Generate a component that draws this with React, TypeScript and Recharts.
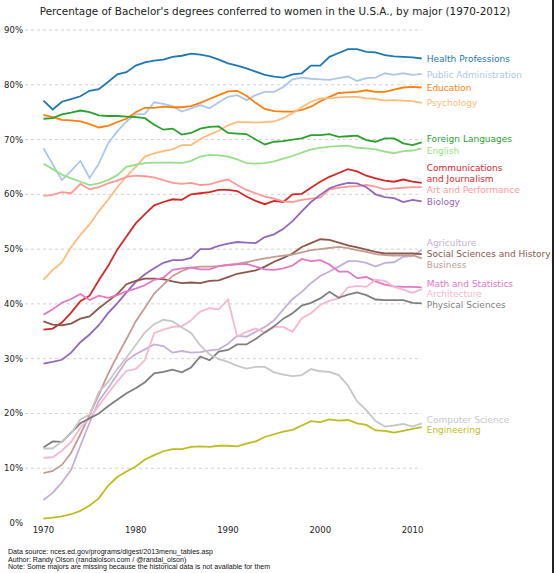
import { LineChart, Line, XAxis, YAxis, ReferenceLine, ReferenceDot } from "recharts";

const years = [
  1970, 1971, 1972, 1973, 1974, 1975, 1976, 1977, 1978, 1979,
  1980, 1981, 1982, 1983, 1984, 1985, 1986, 1987, 1988, 1989,
  1990, 1991, 1992, 1993, 1994, 1995, 1996, 1997, 1998, 1999,
  2000, 2001, 2002, 2003, 2004, 2005, 2006, 2007, 2008, 2009,
  2010, 2011,
];

const healthProfessions = [
  77.1, 75.5, 76.9, 77.4, 77.9, 78.9, 79.2, 80.5, 81.9, 82.3,
  83.5, 84.1, 84.4, 84.6, 85.1, 85.3, 85.7, 85.5, 85.2, 84.6,
  83.9, 83.5, 83.0, 82.4, 81.8, 81.5, 81.3, 81.9, 82.1, 83.5,
  83.5, 85.1, 85.8, 86.5, 86.5, 86.0, 85.9, 85.4, 85.2, 85.1,
  85.0, 84.8,
];
const publicAdministration = [
  68.4, 65.5, 62.6, 64.3, 66.1, 63.0, 65.6, 69.3, 71.5, 73.3,
  74.6, 74.7, 76.8, 76.5, 76.1, 75.1, 75.7, 76.3, 75.7, 76.8,
  77.8, 78.1, 77.2, 78.1, 78.7, 78.7, 79.6, 81.0, 81.3, 81.1,
  81.0, 80.9, 81.2, 81.5, 80.7, 81.2, 81.3, 82.1, 81.8, 82.1,
  81.8, 82.0,
];
const education = [
  74.5, 74.1, 73.6, 73.5, 73.3, 72.8, 72.2, 72.5, 73.2, 73.8,
  75.0, 75.8, 75.8, 76.0, 75.9, 75.9, 76.1, 76.7, 77.4, 78.1,
  78.8, 78.9, 78.0, 76.7, 75.6, 75.2, 75.1, 75.1, 75.4, 76.0,
  77.0, 77.8, 78.5, 78.6, 78.7, 79.0, 78.7, 78.7, 79.1, 79.5,
  79.6, 79.5,
];
const psychology = [
  44.4, 46.2, 47.6, 50.4, 52.6, 54.5, 56.9, 59.0, 61.3, 63.3,
  65.0, 66.9, 67.5, 67.9, 68.2, 69.0, 69.0, 70.1, 70.9, 71.6,
  72.6, 73.2, 73.2, 73.1, 73.2, 73.3, 73.9, 74.8, 75.9, 76.9,
  77.5, 77.5, 77.7, 77.8, 77.8, 77.5, 77.4, 77.1, 77.2, 77.1,
  77.0, 76.7,
];
const foreignLanguages = [
  73.8, 73.9, 74.6, 74.9, 75.3, 75.0, 74.4, 74.3, 74.3, 74.2,
  74.1, 73.9, 72.7, 71.8, 72.0, 70.9, 71.2, 72.0, 72.3, 72.4,
  71.2, 71.1, 71.0, 70.0, 69.1, 69.6, 69.7, 70.0, 70.2, 70.8,
  70.8, 71.0, 70.5, 70.6, 70.7, 69.9, 69.6, 70.2, 70.2, 69.3,
  69.0, 69.5,
];
const english = [
  65.6, 64.6, 63.6, 62.9, 62.3, 61.7, 62.0, 62.6, 63.5, 65.0,
  65.4, 65.7, 65.8, 65.8, 65.8, 65.7, 66.1, 66.9, 67.2, 67.1,
  66.9, 66.4, 65.7, 65.6, 65.7, 66.0, 66.5, 67.0, 67.6, 68.2,
  68.5, 68.7, 68.8, 68.9, 68.5, 68.4, 68.2, 67.8, 67.5, 67.9,
  68.0, 68.4,
];
const communications = [
  35.3, 35.5, 36.6, 38.4, 40.5, 41.5, 44.3, 46.9, 49.9, 52.3,
  54.7, 56.4, 58.0, 58.6, 59.1, 59.0, 60.0, 60.2, 60.4, 60.8,
  60.8, 60.6, 59.6, 58.8, 58.2, 58.8, 58.6, 60.0, 60.1, 61.2,
  62.3, 63.2, 63.9, 64.6, 64.2, 63.4, 62.9, 62.5, 62.3, 62.7,
  62.3, 62.1,
];
const artPerformance = [
  59.7, 59.9, 60.4, 60.2, 61.9, 60.9, 61.3, 62.0, 62.5, 63.2,
  63.4, 63.3, 63.1, 62.6, 62.1, 61.9, 62.1, 61.7, 61.8, 62.3,
  62.7, 61.7, 60.8, 60.2, 59.6, 59.2, 58.7, 58.6, 59.0, 59.2,
  59.4, 60.9, 61.2, 61.4, 61.5, 61.7, 61.4, 60.9, 61.1, 61.2,
  61.3, 61.3,
];
const biology = [
  29.1, 29.4, 29.8, 31.1, 33.0, 34.4, 36.1, 38.3, 40.1, 42.1,
  44.0, 45.4, 46.5, 47.5, 48.0, 48.0, 48.4, 50.0, 50.0, 50.6,
  51.0, 51.3, 51.2, 51.1, 52.2, 52.7, 53.7, 55.1, 56.9, 58.6,
  59.9, 61.1, 61.7, 62.1, 62.0, 61.3, 60.0, 59.5, 59.3, 58.6,
  59.0, 58.7,
];
const agriculture = [
  4.2, 5.5, 7.4, 9.7, 14.1, 18.3, 22.3, 24.6, 27.1, 29.6,
  30.8, 31.7, 32.6, 32.3, 31.1, 31.4, 31.1, 31.2, 31.5, 31.7,
  32.7, 34.2, 34.0, 34.9, 35.8, 37.0, 39.0, 40.9, 42.2, 43.8,
  45.1, 45.9, 46.8, 47.8, 47.8, 47.5, 46.8, 47.5, 47.6, 48.6,
  48.7, 49.9,
];
const socialSciences = [
  36.8, 36.2, 36.1, 36.4, 37.3, 37.7, 39.2, 40.5, 41.8, 43.6,
  44.2, 44.6, 44.6, 44.5, 44.1, 43.8, 43.9, 43.8, 44.2, 44.3,
  44.9, 45.5, 45.8, 46.1, 46.8, 47.7, 48.4, 49.2, 50.4, 51.1,
  51.8, 51.7, 51.2, 50.7, 50.3, 49.9, 49.5, 49.2, 49.2, 49.2,
  49.2, 49.1,
];
const business = [
  9.1, 9.5, 10.6, 12.8, 16.2, 19.7, 23.4, 27.2, 30.5, 33.6,
  36.8, 39.3, 41.9, 43.5, 45.1, 46.0, 46.6, 46.8, 46.8, 46.9,
  47.1, 47.3, 47.6, 48.0, 48.3, 48.6, 48.8, 49.0, 49.4, 49.8,
  50.0, 50.2, 50.4, 50.2, 49.8, 49.5, 49.1, 48.9, 48.8, 48.8,
  48.9, 48.3,
];
const mathStatistics = [
  38.0, 39.0, 40.2, 40.9, 41.8, 40.7, 41.5, 41.1, 41.6, 42.3,
  42.8, 43.4, 44.4, 44.8, 46.2, 46.5, 46.6, 46.3, 46.3, 46.9,
  47.1, 47.2, 47.3, 46.8, 46.3, 46.2, 46.5, 47.0, 48.2, 47.8,
  48.0, 47.2, 45.9, 45.9, 44.7, 44.9, 44.1, 43.5, 43.2, 43.1,
  43.1, 43.0,
];
const architecture = [
  11.9, 12.0, 13.2, 14.8, 17.4, 19.1, 21.4, 23.7, 25.8, 27.8,
  28.1, 29.8, 34.7, 35.3, 35.8, 35.9, 37.0, 38.6, 39.2, 39.0,
  40.8, 34.0, 34.9, 35.5, 34.8, 35.8, 35.8, 34.9, 37.4, 38.3,
  39.8, 40.6, 41.0, 43.0, 43.3, 43.1, 44.4, 44.2, 43.1, 42.6,
  42.0, 42.7,
];
const physicalSciences = [
  13.8, 14.9, 14.8, 16.5, 18.2, 19.1, 20.0, 21.3, 22.5, 23.7,
  24.6, 25.7, 27.3, 27.6, 28.0, 27.5, 28.4, 30.4, 29.7, 31.3,
  31.6, 32.6, 32.6, 33.6, 34.8, 35.9, 37.3, 38.3, 39.7, 40.2,
  41.0, 42.2, 41.1, 41.7, 42.1, 41.6, 40.8, 40.7, 40.7, 40.7,
  40.2, 40.1,
];
const computerScience = [
  13.6, 13.6, 14.9, 16.4, 18.9, 19.8, 23.9, 25.7, 28.1, 30.2,
  32.5, 34.8, 36.3, 37.1, 36.8, 35.7, 34.7, 32.4, 30.8, 29.9,
  29.4, 28.7, 28.2, 28.5, 28.5, 27.5, 27.1, 26.8, 27.0, 28.1,
  27.7, 27.6, 27.0, 25.1, 22.2, 20.6, 18.6, 17.6, 17.8, 18.1,
  17.6, 18.2,
];
const engineering = [
  0.8, 1.0, 1.2, 1.6, 2.2, 3.2, 4.5, 6.8, 8.4, 9.4,
  10.3, 11.6, 12.4, 13.1, 13.5, 13.5, 13.9, 14.0, 13.9, 14.1,
  14.1, 14.0, 14.5, 14.9, 15.7, 16.2, 16.7, 17.0, 17.8, 18.6,
  18.4, 18.9, 18.7, 18.8, 18.2, 17.9, 16.9, 16.8, 16.5, 16.8,
  17.2, 17.5,
];

// label text, where it sits (in % units) next to the last point
const majorNames = [
  "Health Professions", "Public Administration", "Education", "Psychology",
  "Foreign Languages", "English", "Communications\nand Journalism",
  "Art and Performance", "Biology", "Agriculture",
  "Social Sciences and History", "Business", "Math and Statistics",
  "Architecture", "Physical Sciences", "Computer Science", "Engineering",
];
const labelPositions = [
  84.7, 81.8, 79.5, 76.7, 70.1, 67.9, 63.8, 60.8, 58.6, 51.1,
  49.1, 47.1, 43.6, 41.8, 39.8, 18.8, 17.0,
];
const yTicks = [0, 10, 20, 30, 40, 50, 60, 70, 80, 90];
const xTicks = [1970, 1980, 1990, 2000, 2010];
const gridLevels = [10, 20, 30, 40, 50, 60, 70, 80, 90];

const tableau = [
  "#1f77b4", "#aec7e8", "#ff7f0e", "#ffbb78", "#2ca02c", "#98df8a",
  "#d62728", "#ff9896", "#9467bd", "#c5b0d5", "#8c564b", "#c49c94",
  "#e377c2", "#f7b6d2", "#7f7f7f", "#c7c7c7", "#bcbd22",
];

const seriesValues = [
  healthProfessions, publicAdministration, education, psychology,
  foreignLanguages, english, communications, artPerformance, biology,
  agriculture, socialSciences, business, mathStatistics, architecture,
  physicalSciences, computerScience, engineering,
];

const rows = years.map((year, i) => {
  const row: Record<string, number> = { year };
  seriesValues.forEach((vals, s) => {
    row["s" + s] = vals[i];
  });
  return row;
});

const FONT = "'DejaVu Sans', sans-serif";

const SideLabel = (props: any) => {
  const { viewBox, text, color } = props;
  if (!viewBox) return null;
  const lines = String(text).split("\n");
  const x = viewBox.x + (viewBox.width || 0) + 5;
  const cy = viewBox.y + (viewBox.height || 0) / 2;
  const lh = 11;
  const top = cy - ((lines.length - 1) * lh) / 2;
  return (
    <text
      x={x}
      y={top}
      fill={color}
      fontSize={9}
      fontFamily={FONT}
      dominantBaseline="central"
    >
      {lines.map((ln, k) => (
        <tspan key={k} x={x} y={top + k * lh} dominantBaseline="central">
          {ln}
        </tspan>
      ))}
    </text>
  );
};

export default function App() {
  return (
    <div
      style={{
        position: "absolute",
        left: 0,
        top: 0,
        width: 554,
        height: 573,
        background: "#fff",
        overflow: "hidden",
      }}
    >
      <div
        style={{
          position: "absolute",
          top: 4,
          left: 0,
          width: 550,
          textAlign: "center",
          fontFamily: FONT,
          fontSize: 10.4,
          lineHeight: "14px",
          color: "#222",
          whiteSpace: "nowrap",
        }}
      >
        Percentage of Bachelor's degrees conferred to women in the U.S.A., by major (1970-2012)
      </div>
      <LineChart
        width={554}
        height={573}
        data={rows}
        margin={{ top: 30, right: 104.6, bottom: 30, left: 0 }}
      >
        <XAxis
          dataKey="year"
          type="number"
          domain={[1968, 2014]}
          ticks={xTicks}
          allowDataOverflow
          axisLine={false}
          tickLine={false}
          tickSize={0}
          tickMargin={4}
          height={20}
          tick={{ fontSize: 8.5, fill: "#222", fontFamily: FONT }}
        />
        <YAxis
          type="number"
          domain={[0, 90]}
          ticks={yTicks}
          allowDataOverflow
          axisLine={false}
          tickLine={false}
          tickSize={0}
          tickMargin={2}
          width={25}
          tickFormatter={(v) => v + "%"}
          tick={{ fontSize: 8.5, fill: "#222", fontFamily: FONT }}
        />
        {gridLevels.map((lv) => (
          <ReferenceLine
            key={"g" + lv}
            segment={[
              { x: 1968, y: lv },
              { x: 2011, y: lv },
            ]}
            stroke="#000"
            strokeOpacity={0.3}
            strokeWidth={0.6}
            strokeDasharray="3 3"
          />
        ))}
        {seriesValues.map((_, s) => (
          <Line
            key={"s" + s}
            type="linear"
            dataKey={"s" + s}
            stroke={tableau[s]}
            strokeWidth={1.8}
            dot={false}
            activeDot={false}
            isAnimationActive={false}
          />
        ))}
        {majorNames.map((name, s) => (
          <ReferenceDot
            key={"l" + s}
            x={2011}
            y={labelPositions[s]}
            r={0}
            fill="none"
            stroke="none"
            label={<SideLabel text={name} color={tableau[s]} />}
          />
        ))}
      </LineChart>
      <div
        style={{
          position: "absolute",
          left: 8,
          top: 549,
          fontFamily: "'Liberation Sans', Arial, sans-serif",
          fontSize: 7.1,
          lineHeight: "7.5px",
          color: "#111",
          whiteSpace: "nowrap",
        }}
      >
        <div>Data source: nces.ed.gov/programs/digest/2013menu_tables.asp</div>
        <div>Author: Randy Olson (randalolson.com / @randal_olson)</div>
        <div>Note: Some majors are missing because the historical data is not available for them</div>
      </div>
      <div
        style={{
          position: "absolute",
          left: 552,
          top: 0,
          width: 2,
          height: 573,
          background: "#222",
        }}
      />
    </div>
  );
}
